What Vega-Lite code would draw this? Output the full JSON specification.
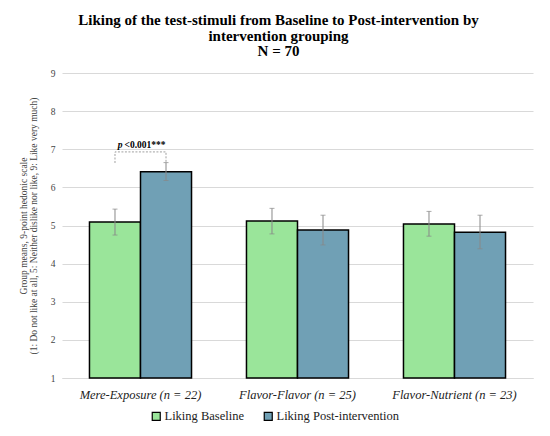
{
  "$schema": "https://vega.github.io/schema/vega-lite/v6.json",
  "width": 471,
  "height": 305,
  "autosize": {"type": "none"},
  "padding": {"left": 62, "top": 73, "right": 17, "bottom": 58},
  "background": "white",
  "title": {
    "text": ["Liking of the test-stimuli from Baseline to Post-intervention by", "intervention grouping"],
    "subtitle": "N = 70",
    "font": "Liberation Serif",
    "fontSize": 15,
    "fontWeight": "bold",
    "color": "#000000",
    "subtitleFont": "Liberation Serif",
    "subtitleFontSize": 15,
    "subtitleFontWeight": "bold",
    "subtitleColor": "#000000",
    "subtitlePadding": 0,
    "lineHeight": 16,
    "subtitleLineHeight": 16,
    "anchor": "middle",
    "dx": -19,
    "offset": 9
  },
  "datasets": {
    "bars": [
      {"group": "Mere-Exposure (n = 22)", "series": "Liking Baseline", "mean": 5.09, "lo": 4.75, "hi": 5.43},
      {"group": "Mere-Exposure (n = 22)", "series": "Liking Post-intervention", "mean": 6.41, "lo": 6.18, "hi": 6.65},
      {"group": "Flavor-Flavor (n = 25)", "series": "Liking Baseline", "mean": 5.12, "lo": 4.78, "hi": 5.45},
      {"group": "Flavor-Flavor (n = 25)", "series": "Liking Post-intervention", "mean": 4.88, "lo": 4.49, "hi": 5.27},
      {"group": "Flavor-Nutrient (n = 23)", "series": "Liking Baseline", "mean": 5.04, "lo": 4.72, "hi": 5.37},
      {"group": "Flavor-Nutrient (n = 23)", "series": "Liking Post-intervention", "mean": 4.82, "lo": 4.39, "hi": 5.27}
    ],
    "bracket": [
      {"group": "Mere-Exposure (n = 22)", "series": "Liking Baseline", "y": 6.64, "ord": 1},
      {"group": "Mere-Exposure (n = 22)", "series": "Liking Baseline", "y": 6.93, "ord": 2},
      {"group": "Mere-Exposure (n = 22)", "series": "Liking Post-intervention", "y": 6.93, "ord": 3},
      {"group": "Mere-Exposure (n = 22)", "series": "Liking Post-intervention", "y": 6.64, "ord": 4}
    ],
    "ptext": [
      {"group": "Mere-Exposure (n = 22)", "y": 7.12, "p": "p", "rest": "<0.001***"}
    ]
  },
  "encoding": {
    "x": {
      "field": "group",
      "type": "nominal",
      "sort": ["Mere-Exposure (n = 22)", "Flavor-Flavor (n = 25)", "Flavor-Nutrient (n = 23)"],
      "scale": {"domain": ["Mere-Exposure (n = 22)", "Flavor-Flavor (n = 25)", "Flavor-Nutrient (n = 23)"], "paddingInner": 0.35, "paddingOuter": 0.175},
      "axis": {
        "title": null,
        "labelAngle": 0,
        "labelFont": "Liberation Serif",
        "labelFontSize": 12.5,
        "labelFontStyle": "italic",
        "labelColor": "#222222",
        "labelPadding": 10,
        "ticks": false,
        "domain": true,
        "domainColor": "#d9d9d9"
      }
    }
  },
  "layer": [
    {
      "data": {"name": "bars"},
      "mark": {"type": "bar", "stroke": "#000000", "strokeWidth": 1.5},
      "encoding": {
        "xOffset": {"field": "series", "type": "nominal", "scale": {"domain": ["Liking Baseline", "Liking Post-intervention"], "paddingInner": 0, "paddingOuter": 0}},
        "y": {
          "field": "mean",
          "type": "quantitative",
          "scale": {"domain": [1, 9], "nice": false, "zero": false},
          "axis": {"values": [1, 2, 3, 4, 5, 6, 7, 8, 9], "title": ["Group means, 9-point hedonic scale", "(1: Do not like at all, 5: Neither dislike nor like, 9: Like very much)"]}
        },
        "y2": {"datum": 1},
        "color": {
          "field": "series",
          "type": "nominal",
          "scale": {"domain": ["Liking Baseline", "Liking Post-intervention"], "range": ["#9AE59A", "#70A0B5"]},
          "legend": {
            "title": null,
            "orient": "none",
            "direction": "horizontal",
            "legendX": 88,
            "legendY": 337,
            "symbolType": "square",
            "symbolSize": 64,
            "symbolStrokeColor": "#000000",
            "symbolStrokeWidth": 1.2,
            "labelFont": "Liberation Serif",
            "labelFontSize": 12.5,
            "labelColor": "#222222",
            "labelOffset": 2,
            "columnPadding": 17
          }
        }
      }
    },
    {
      "data": {"name": "bars"},
      "mark": {"type": "rule", "color": "#888888", "strokeWidth": 1},
      "encoding": {
        "xOffset": {"field": "series", "type": "nominal", "scale": {"domain": ["Liking Baseline", "Liking Post-intervention"], "paddingInner": 0, "paddingOuter": 0}},
        "y": {"field": "lo", "type": "quantitative", "axis": {"values": [1, 2, 3, 4, 5, 6, 7, 8, 9], "title": ["Group means, 9-point hedonic scale", "(1: Do not like at all, 5: Neither dislike nor like, 9: Like very much)"]}},
        "y2": {"field": "hi"}
      }
    },
    {
      "data": {"name": "bars"},
      "mark": {"type": "tick", "color": "#888888", "size": 5, "thickness": 1, "orient": "horizontal"},
      "encoding": {
        "xOffset": {"field": "series", "type": "nominal", "scale": {"domain": ["Liking Baseline", "Liking Post-intervention"], "paddingInner": 0, "paddingOuter": 0}},
        "y": {"field": "lo", "type": "quantitative", "axis": {"values": [1, 2, 3, 4, 5, 6, 7, 8, 9], "title": ["Group means, 9-point hedonic scale", "(1: Do not like at all, 5: Neither dislike nor like, 9: Like very much)"]}}
      }
    },
    {
      "data": {"name": "bars"},
      "mark": {"type": "tick", "color": "#888888", "size": 5, "thickness": 1, "orient": "horizontal"},
      "encoding": {
        "xOffset": {"field": "series", "type": "nominal", "scale": {"domain": ["Liking Baseline", "Liking Post-intervention"], "paddingInner": 0, "paddingOuter": 0}},
        "y": {"field": "hi", "type": "quantitative", "axis": {"values": [1, 2, 3, 4, 5, 6, 7, 8, 9], "title": ["Group means, 9-point hedonic scale", "(1: Do not like at all, 5: Neither dislike nor like, 9: Like very much)"]}}
      }
    },
    {
      "data": {"name": "bracket"},
      "mark": {"type": "line", "color": "#a0a0a0", "strokeWidth": 1, "strokeDash": [2, 1.5]},
      "encoding": {
        "xOffset": {"field": "series", "type": "nominal", "scale": {"domain": ["Liking Baseline", "Liking Post-intervention"], "paddingInner": 0, "paddingOuter": 0}},
        "y": {"field": "y", "type": "quantitative", "axis": {"values": [1, 2, 3, 4, 5, 6, 7, 8, 9], "title": ["Group means, 9-point hedonic scale", "(1: Do not like at all, 5: Neither dislike nor like, 9: Like very much)"]}},
        "order": {"field": "ord", "type": "quantitative"}
      }
    },
    {
      "data": {"name": "ptext"},
      "mark": {"type": "text", "font": "Liberation Serif", "fontSize": 9.5, "fontWeight": "bold", "fontStyle": "italic", "align": "right", "dx": -18, "color": "#000000"},
      "encoding": {
        "y": {"field": "y", "type": "quantitative", "axis": {"values": [1, 2, 3, 4, 5, 6, 7, 8, 9], "title": ["Group means, 9-point hedonic scale", "(1: Do not like at all, 5: Neither dislike nor like, 9: Like very much)"]}},
        "text": {"field": "p"}
      }
    },
    {
      "data": {"name": "ptext"},
      "mark": {"type": "text", "font": "Liberation Serif", "fontSize": 9.5, "fontWeight": "bold", "align": "left", "dx": -16, "color": "#000000"},
      "encoding": {
        "y": {"field": "y", "type": "quantitative", "axis": {"values": [1, 2, 3, 4, 5, 6, 7, 8, 9], "title": ["Group means, 9-point hedonic scale", "(1: Do not like at all, 5: Neither dislike nor like, 9: Like very much)"]}},
        "text": {"field": "rest"}
      }
    }
  ],
  "config": {
    "view": {"stroke": null},
    "axisY": {
      "titleFont": "Liberation Serif",
      "titleFontSize": 9.5,
      "titleFontWeight": "normal",
      "titleColor": "#444444",
      "titleLineHeight": 10,
      "titlePadding": 12,
      "labelFont": "Liberation Serif",
      "labelFontSize": 9.5,
      "labelColor": "#444444",
      "labelPadding": 7,
      "ticks": false,
      "domain": false,
      "grid": true,
      "gridColor": "#d9d9d9",
      "gridWidth": 1
    }
  }
}
